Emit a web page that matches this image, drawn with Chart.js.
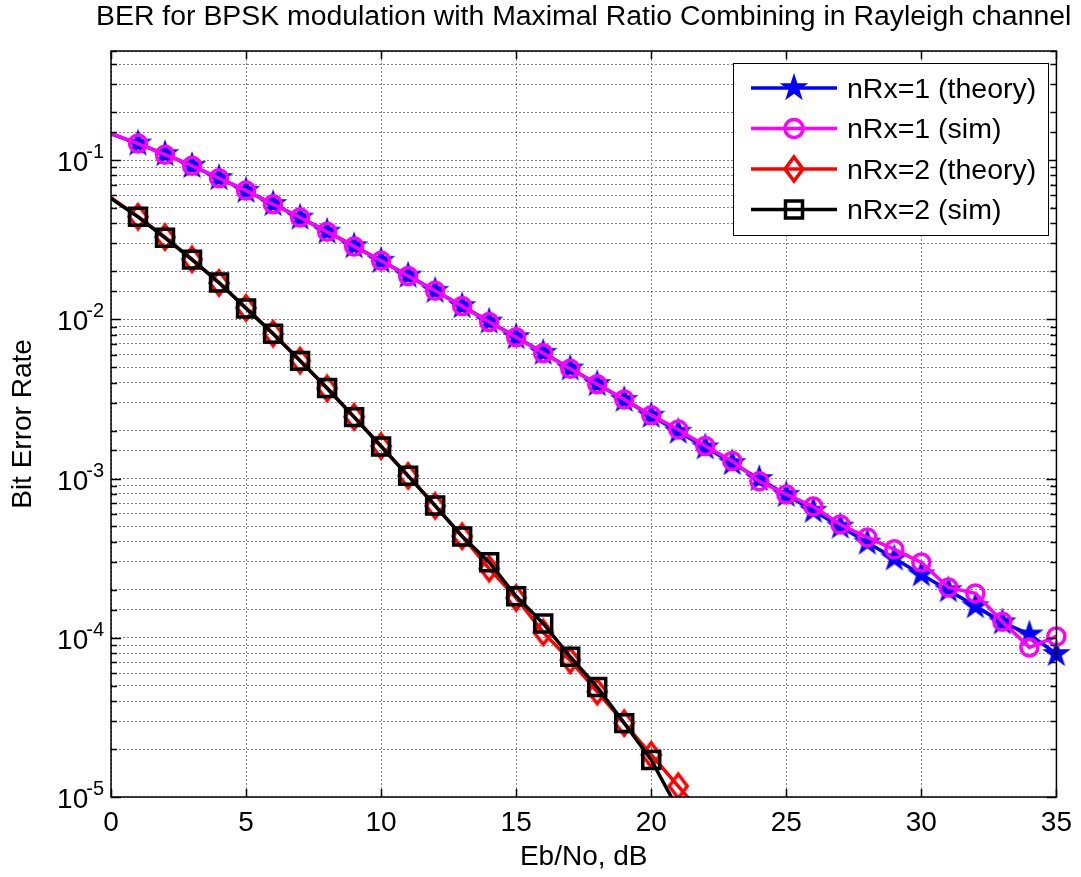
<!DOCTYPE html>
<html>
<head>
<meta charset="utf-8">
<script src="https://cdn.jsdelivr.net/npm/chart.js"></script>
<style>
html,body{margin:0;padding:0;background:#fff;}
</style>
</head>
<body>
<canvas id="berChart" width="1081" height="877"></canvas>
<script>
// Eb/No axis (dB)
const ebNoDb = [0,1,2,3,4,5,6,7,8,9,10,11,12,13,14,15,16,17,18,19,20,21,22,23,24,25,26,27,28,29,30,31,32,33,34,35];

// values
const theoryRx1 = [0.146,0.127,0.109,0.0919,0.0771,0.0642,0.0530,0.0435,0.0355,0.0288,0.0233,0.0188,0.0151,0.0121,0.00967,0.00773,0.00616,0.00491,0.00392,0.00312,0.00248,0.00197,0.00157,0.00125,0.000994,0.000790,0.000628,0.000499,0.000396,0.000315,0.000250,0.000199,0.000158,0.000125,0.000105,0.0000791];
const simRx1 = [0.147,0.127,0.108,0.0921,0.0769,0.0643,0.0528,0.0436,0.0354,0.0287,0.0233,0.0187,0.0151,0.0121,0.00962,0.00771,0.00612,0.00489,0.00391,0.00314,0.00250,0.00203,0.00160,0.00129,0.000960,0.000795,0.000667,0.000514,0.000427,0.000359,0.000297,0.000207,0.000190,0.000126,0.000087,0.000102];
const theoryRx2 = [0.0581,0.0441,0.0328,0.0238,0.0169,0.0118,0.00813,0.00551,0.00368,0.00244,0.00160,0.00104,0.000674,0.000434,0.000272,0.000178,0.000108,0.0000722,0.0000459,0.0000291,0.0000184,0.0000117,0.0000074];
const simRx2 = [0.0575,0.0440,0.0325,0.0237,0.0170,0.0117,0.00812,0.00548,0.00370,0.00243,0.00159,0.00104,0.000676,0.000433,0.000298,0.000182,0.000123,0.0000760,0.0000490,0.0000291,0.0000171,0.0000083];

const seriesLabels = ["nRx=1 (theory)","nRx=1 (sim)","nRx=2 (theory)","nRx=2 (sim)"];
const chartTitle = "BER for BPSK modulation with Maximal Ratio Combining in Rayleigh channel";
const xTickStep = 5;
const yDecadeExps = [-5,-4,-3,-2,-1];

const FONT = "'Liberation Sans', Arial, Helvetica, sans-serif";

function makeStar(outerR, color){
  const size = Math.ceil(outerR*2+4);
  const c = document.createElement("canvas");
  c.width = size; c.height = size;
  const g = c.getContext("2d");
  const innerR = outerR*0.382;
  g.beginPath();
  for(let k=0;k<10;k++){
    const r = k%2===0 ? outerR : innerR;
    const a = -Math.PI/2 + k*Math.PI/5;
    const px = size/2 + r*Math.cos(a), py = size/2 + r*Math.sin(a);
    if(k===0) g.moveTo(px,py); else g.lineTo(px,py);
  }
  g.closePath();
  g.fillStyle = color;
  g.fill();
  return c;
}

function makeDiamond(hw, hh, color, lw){
  const c = document.createElement("canvas");
  c.width = Math.ceil(2*hw+lw+2); c.height = Math.ceil(2*hh+lw+2);
  const g = c.getContext("2d");
  const cx = c.width/2, cy = c.height/2;
  g.beginPath();
  g.moveTo(cx, cy-hh); g.lineTo(cx+hw, cy); g.lineTo(cx, cy+hh); g.lineTo(cx-hw, cy);
  g.closePath();
  g.lineWidth = lw; g.strokeStyle = color; g.lineJoin = "miter";
  g.stroke();
  return c;
}

const starImg = makeStar(15, "#0000ff");
const diamondImg = makeDiamond(9, 12, "#ff0000", 3.5);

// no marker on the first point
function radiusFrom(r){ return ctx => ctx.dataIndex === 0 ? 0 : r; }

const datasets = [
  {label:seriesLabels[0], data:theoryRx1, borderColor:"#0000ff", backgroundColor:"#0000ff",
   pointStyle:starImg, pointRadius:radiusFrom(13), order:4},
  {label:seriesLabels[1], data:simRx1, borderColor:"#ff00ff", pointBorderColor:"#ff00ff",
   pointBackgroundColor:"rgba(0,0,0,0)", pointStyle:"circle", pointRadius:radiusFrom(8.5), pointBorderWidth:3.5, order:3},
  {label:seriesLabels[2], data:theoryRx2, borderColor:"#ff0000", backgroundColor:"#ff0000",
   pointStyle:diamondImg, pointRadius:radiusFrom(11), order:2},
  {label:seriesLabels[3], data:simRx2, borderColor:"#000000", pointBorderColor:"#000000",
   pointBackgroundColor:"rgba(0,0,0,0)", pointStyle:"rect", pointRadius:radiusFrom(12), pointBorderWidth:3.5, order:1}
];
datasets.forEach(d => {
  d.data = d.data.map((v,i) => ({x:ebNoDb[i], y:v}));
  d.borderWidth = 3.5;
  d.tension = 0;
  d.fill = false;
  d.clip = {left:0, top:0, right:16, bottom:0};
});

const framePlugin = {
  id:"frame",
  afterDraw(chart){
    const ctx = chart.ctx;
    const a = chart.chartArea;
    const xs = chart.scales.x, ys = chart.scales.y;
    ctx.save();

    // title, centred over the plot box (it is wider than the box)
    ctx.fillStyle = "#000";
    ctx.font = "28.4px " + FONT;
    ctx.textAlign = "center"; ctx.textBaseline = "middle";
    ctx.fillText(chartTitle, (a.left+a.right)/2, 17);

    // inner tick marks
    ctx.strokeStyle = "#000"; ctx.lineWidth = 1.5;
    ys.ticks.forEach(t => {
      const y = Math.round(ys.getPixelForValue(t.value)) + 0.5;
      if(y < a.top || y > a.bottom+1) return;
      const exp = Math.log10(t.value);
      const len = Math.abs(exp - Math.round(exp)) < 1e-6 ? 10 : 6;
      ctx.beginPath();
      ctx.moveTo(a.left, y); ctx.lineTo(a.left+len, y);
      ctx.moveTo(a.right, y); ctx.lineTo(a.right-len, y);
      ctx.stroke();
    });
    for(let v=0; v<=35; v+=xTickStep){
      const x = Math.round(xs.getPixelForValue(v)) + 0.5;
      ctx.beginPath();
      ctx.moveTo(x, a.bottom); ctx.lineTo(x, a.bottom-8);
      ctx.moveTo(x, a.top); ctx.lineTo(x, a.top+8);
      ctx.stroke();
    }

    // box
    ctx.lineWidth = 1.5;
    ctx.strokeRect(a.left, a.top, a.right-a.left, a.bottom-a.top);

    // y tick labels 10^n
    ctx.fillStyle = "#000";
    ctx.textBaseline = "alphabetic";
    yDecadeExps.forEach(e => {
      const y = ys.getPixelForValue(Math.pow(10, e));
      const expText = String(e);
      ctx.font = "20px " + FONT;
      const ew = ctx.measureText(expText).width;
      ctx.textAlign = "left";
      ctx.fillText(expText, 104-ew, y-2);
      ctx.font = "28px " + FONT;
      ctx.textAlign = "right";
      ctx.fillText("10", 104-ew+2, y+11);
    });

    // legend
    const lx = 733, ly = 63, lw = 315, lh = 172;
    ctx.fillStyle = "#fff";
    ctx.fillRect(lx, ly, lw, lh);
    ctx.strokeStyle = "#000"; ctx.lineWidth = 1;
    ctx.strokeRect(lx+0.5, ly+0.5, lw, lh);
    chart.data.datasets.forEach((d,i) => {
      const ry = 88 + i*40.5;
      ctx.strokeStyle = d.borderColor; ctx.lineWidth = 3.5;
      ctx.beginPath(); ctx.moveTo(751, ry); ctx.lineTo(837, ry); ctx.stroke();
      const mx = 794;
      if(d.pointStyle === "circle"){
        ctx.beginPath(); ctx.arc(mx, ry, 9, 0, Math.PI*2);
        ctx.strokeStyle = d.pointBorderColor; ctx.lineWidth = 3.5; ctx.stroke();
      } else if(d.pointStyle === "rect"){
        ctx.strokeStyle = d.pointBorderColor; ctx.lineWidth = 3.5;
        ctx.strokeRect(mx-8.5, ry-8.5, 17, 17);
      } else {
        const img = d.pointStyle;
        ctx.drawImage(img, mx-img.width/2, ry-img.height/2);
      }
      ctx.fillStyle = "#000";
      ctx.font = "28.5px " + FONT;
      ctx.textAlign = "left"; ctx.textBaseline = "middle";
      ctx.fillText(d.label, 847, ry+2);
    });
    ctx.restore();
  }
};

new Chart(document.getElementById("berChart"), {
  type:"line",
  data:{datasets:datasets},
  options:{
    responsive:false,
    animation:false,
    devicePixelRatio:1,
    layout:{padding:{left:0, right:20, top:51, bottom:0}},
    scales:{
      x:{
        type:"linear", min:0, max:35,
        ticks:{stepSize:xTickStep, color:"#000", padding:9, maxRotation:0, font:{family:FONT, size:28}},
        grid:{drawTicks:false, color:"#808080", lineWidth:1},
        border:{display:false, dash:[2,2]},
        title:{display:true, text:"Eb/No, dB", color:"#000", font:{family:FONT, size:28}, padding:{top:0, bottom:3}},
        afterFit(s){ s.height = 80; }
      },
      y:{
        type:"logarithmic", min:1e-5, max:0.484,
        ticks:{display:false},
        grid:{drawTicks:false, color:"#808080", lineWidth:1},
        border:{display:false, dash:[2,2]},
        title:{display:true, text:"Bit Error Rate", color:"#000", font:{family:FONT, size:28}, padding:{top:6, bottom:0}},
        afterFit(s){ s.width = 111; }
      }
    },
    plugins:{
      legend:{display:false},
      tooltip:{enabled:false},
      title:{display:false}
    }
  },
  plugins:[framePlugin]
});
</script>
</body>
</html>
